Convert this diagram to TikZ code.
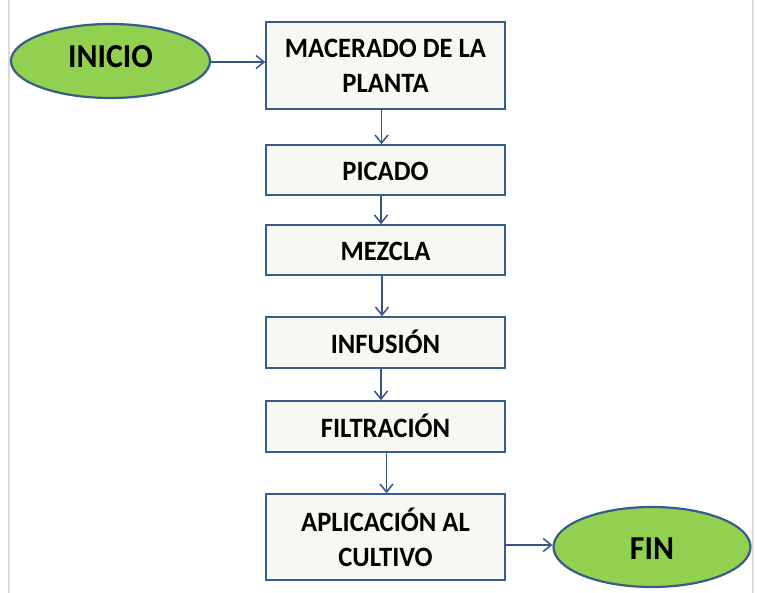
\documentclass[tikz,border=0pt]{standalone}
\usepackage{fontspec}
\setmainfont{Carlito}
\newfontfamily\narrowfont[FakeStretch=0.95]{Carlito}
\usetikzlibrary{arrows.meta,shapes.geometric}
\definecolor{elfill}{RGB}{146,208,80}
\definecolor{eldraw}{RGB}{56,93,138}
\definecolor{boxfill}{RGB}{247,248,241}
\definecolor{boxdraw}{RGB}{56,93,138}
\definecolor{arr}{RGB}{55,85,132}
\definecolor{edge}{RGB}{218,218,218}
\tikzset{
  term/.style={ellipse, draw=eldraw, line width=2.2pt, fill=elfill, inner sep=0pt,
    font=\narrowfont\fontsize{33.5}{40}\selectfont\bfseries},
  procbox/.style={rectangle, draw=boxdraw, line width=1.6pt, fill=boxfill, inner sep=0pt,
    minimum width=239pt, align=center, font=\narrowfont\fontsize{28}{35}\selectfont\bfseries},
  oneline/.style={text height=22pt, text depth=0pt},
  flow/.style={draw=arr, line width=1.5pt, -{Straight Barb[length=8pt,width=13pt,line width=1.5pt]}}
}
\begin{document}
\begin{tikzpicture}[x=1pt,y=-1pt]
\useasboundingbox[fill=white] (0,0) rectangle (759,593);
\draw[edge, line width=1.5pt] (9,0) -- (9,593);
\draw[edge, line width=1.5pt] (753,0) -- (753,593);
\node[term, minimum width=199pt, minimum height=74pt, text height=21.5pt, text depth=8pt] (ini) at (110.5,61) {INICIO};
\node[procbox, minimum height=87pt] (m1) at (385.5,65.5) {MACERADO DE LA\\PLANTA};
\node[procbox, oneline, minimum height=50pt] (m2) at (385.5,170) {PICADO};
\node[procbox, oneline, minimum height=50pt] (m3) at (385.5,250) {MEZCLA};
\node[procbox, oneline, minimum height=51pt] (m4) at (385.5,342.5) {INFUSIÓN};
\node[procbox, oneline, minimum height=51pt] (m5) at (385.5,426.5) {FILTRACIÓN};
\node[procbox, minimum height=86pt] (m6) at (385.5,537) {APLICACIÓN AL\\CULTIVO};
\node[term, minimum width=197pt, minimum height=80pt, text height=25.5pt, text depth=0pt] (fin) at (652,547) {FIN};
\draw[flow] ([yshift=-1pt]ini.east) -- ([yshift=-1pt]ini.east -| m1.west);
\draw[flow] ([xshift=-4pt]m1.south) -- ([xshift=-4pt]m2.north);
\draw[flow] ([xshift=-4.5pt]m2.south) -- ([xshift=-4.5pt]m3.north);
\draw[flow] ([xshift=-3.5pt]m3.south) -- ([xshift=-3.5pt]m4.north);
\draw[flow] ([xshift=-4.5pt]m4.south) -- ([xshift=-4.5pt]m5.north);
\draw[flow] ([xshift=1pt]m5.south) -- ([xshift=1pt]m6.north);
\draw[flow] ([yshift=2pt]fin.west -| m6.east) -- ([yshift=2pt]fin.west);
\end{tikzpicture}
\end{document}
